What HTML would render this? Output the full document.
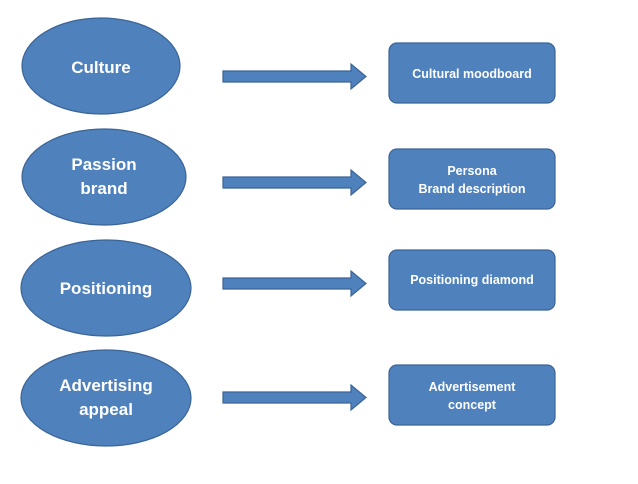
<!DOCTYPE html>
<html><head><style>body{margin:0;background:#fff}</style></head><body>
<svg width="638" height="479" xmlns="http://www.w3.org/2000/svg" font-family="Liberation Sans, sans-serif" font-weight="bold" fill="#fff">
<g fill="#4f81bd" stroke="#3b6497" stroke-width="1.2">
<ellipse cx="101" cy="66" rx="79" ry="48"/>
<ellipse cx="104" cy="177" rx="82" ry="48"/>
<ellipse cx="106" cy="288" rx="85" ry="48"/>
<ellipse cx="106" cy="398" rx="85" ry="48"/>
<path d="M223,71 H351 V64 L366,76.5 L351,89 V82 H223 Z"/>
<path d="M223,177 H351 V170 L366,182.5 L351,195 V188 H223 Z"/>
<path d="M223,278 H351 V271 L366,283.5 L351,296 V289 H223 Z"/>
<path d="M223,392 H351 V385 L366,397.5 L351,410 V403 H223 Z"/>
<rect x="389" y="43" width="166" height="60" rx="8"/>
<rect x="389" y="149" width="166" height="60" rx="8"/>
<rect x="389" y="250" width="166" height="60" rx="8"/>
<rect x="389" y="365" width="166" height="60" rx="8"/>
</g>
<g font-size="17" text-anchor="middle" fill="#fff">
<text x="101" y="73">Culture</text>
<text x="104" y="170">Passion</text>
<text x="104" y="194">brand</text>
<text x="106" y="294">Positioning</text>
<text x="106" y="391">Advertising</text>
<text x="106" y="415">appeal</text>
</g>
<g font-size="12.5" text-anchor="middle" fill="#fff">
<text x="472" y="78">Cultural moodboard</text>
<text x="472" y="175">Persona</text>
<text x="472" y="193">Brand description</text>
<text x="472" y="284">Positioning diamond</text>
<text x="472" y="391">Advertisement</text>
<text x="472" y="409">concept</text>
</g>
</svg>
</body></html>
